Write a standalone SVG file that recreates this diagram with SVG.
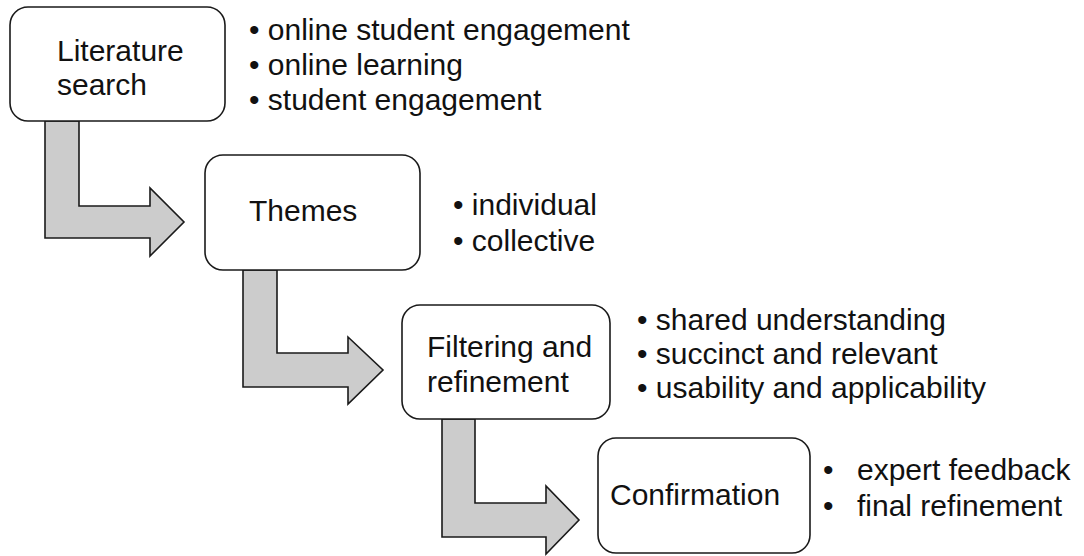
<svg xmlns="http://www.w3.org/2000/svg" width="1084" height="556" viewBox="0 0 1084 556">
<style>
.box{fill:#ffffff;stroke:#1a1a1a;stroke-width:1.6}
.arr{fill:#cccccc;stroke:#1a1a1a;stroke-width:1.6;stroke-linejoin:miter}
text{font-family:"Liberation Sans",Arial,sans-serif;font-size:30px;fill:#111111}
</style>
<rect width="1084" height="556" fill="#ffffff"/>
<g id="connectors">
<polygon class="arr" points="45,121 45,238 150,238 150,256 184,222 150,188 150,206 79,206 79,121"/>
<polygon class="arr" points="243,270 243,387 348,387 348,404 383,370 348,337 348,353 277,353 277,270"/>
<polygon class="arr" points="442,419 442,537 546,537 546,554 579,520 546,486 546,503 475,503 475,419"/>
</g>
<g id="node-literature">
<rect class="box" x="10" y="7" width="215" height="114" rx="18"/>
<text x="57" y="61">Literature</text>
<text x="57" y="95">search</text>
</g>
<g id="bullets-literature">
<text x="249" y="40">• online student engagement</text>
<text x="249" y="75">• online learning</text>
<text x="249" y="110">• student engagement</text>
</g>
<g id="node-themes">
<rect class="box" x="205" y="155" width="215" height="115" rx="18"/>
<text x="249" y="221">Themes</text>
</g>
<g id="bullets-themes">
<text x="453" y="215">• individual</text>
<text x="453" y="251">• collective</text>
</g>
<g id="node-filtering">
<rect class="box" x="402" y="305" width="208" height="114" rx="18"/>
<text x="427" y="357">Filtering and</text>
<text x="427" y="392">refinement</text>
</g>
<g id="bullets-filtering">
<text x="637" y="330">• shared understanding</text>
<text x="637" y="364">• succinct and relevant</text>
<text x="637" y="398">• usability and applicability</text>
</g>
<g id="node-confirmation">
<rect class="box" x="598" y="438" width="212" height="115" rx="18"/>
<text x="610" y="505">Confirmation</text>
</g>
<g id="bullets-confirmation">
<text x="823" y="480">•</text>
<text x="857" y="480">expert feedback</text>
<text x="823" y="516">•</text>
<text x="857" y="516">final refinement</text>
</g>
</svg>
